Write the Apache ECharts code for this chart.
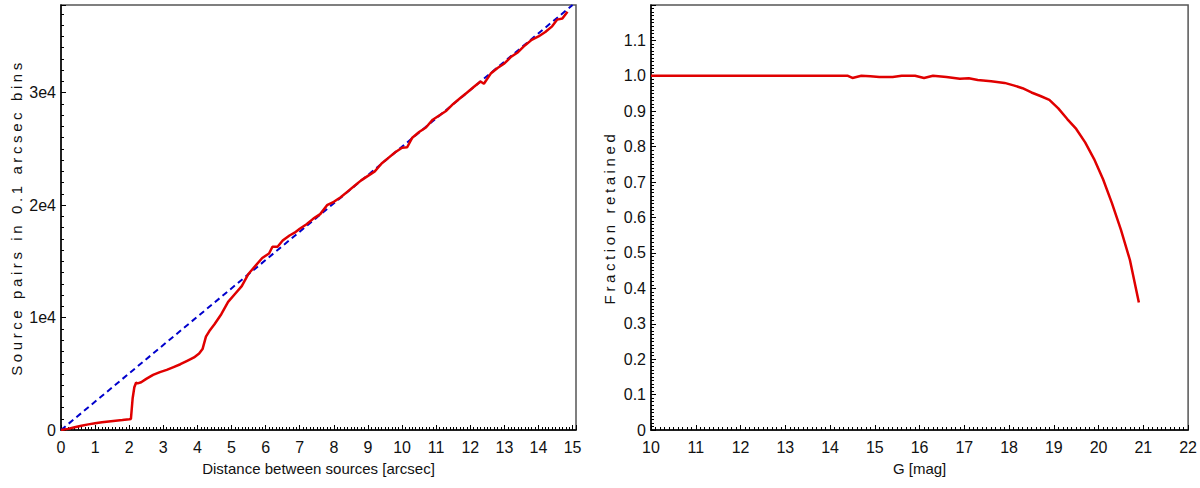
<!DOCTYPE html>
<html>
<head>
<meta charset="utf-8">
<script src="https://cdn.jsdelivr.net/npm/echarts@6/dist/echarts.min.js"></script>
<style>
  html, body { margin: 0; padding: 0; background: #fff; }
  #chart { width: 1200px; height: 488px; }
</style>
</head>
<body>
<div id="chart"></div>
<script>
// left panel: source pairs vs separation
const distRed = [0, 0.2, 0.4, 0.6, 0.8, 1.0, 1.2, 1.4, 1.6, 1.8, 2.0, 2.05, 2.1, 2.15, 2.2, 2.25, 2.35, 2.5, 2.7, 2.9,
  3.1, 3.3, 3.5, 3.7, 3.9, 4.05, 4.15, 4.25, 4.35, 4.5, 4.7, 4.9, 5.1, 5.3, 5.5, 5.7, 5.9, 6.1, 6.2, 6.35, 6.5, 6.7,
  6.85, 7.0, 7.2, 7.4, 7.6, 7.8, 8.0, 8.2, 8.4, 8.6, 8.8, 9.0, 9.2, 9.4, 9.6, 9.8, 10.0, 10.15, 10.3, 10.5, 10.7,
  10.9, 11.1, 11.3, 11.5, 11.7, 11.9, 12.1, 12.3, 12.4, 12.6, 12.8, 13.0, 13.2, 13.4, 13.6, 13.8, 14.0, 14.2, 14.4,
  14.55, 14.7, 14.85];
const pairsRed = [0, 100, 250, 380, 500, 600, 680, 750, 820, 880, 950, 980, 2800, 3800, 4200, 4150, 4250, 4550, 4900, 5150,
  5350, 5600, 5850, 6150, 6450, 6800, 7200, 8300, 8800, 9400, 10300, 11400, 12100, 12800, 13900, 14600, 15300, 15700, 16300, 16300, 16850, 17300,
  17550, 17900, 18300, 18800, 19200, 20000, 20300, 20700, 21200, 21700, 22200, 22600, 23000, 23700, 24200, 24700, 25100, 25150, 26000, 26500, 26900,
  27600, 28000, 28400, 29000, 29500, 30000, 30500, 31000, 30800, 31700, 32200, 32600, 33200, 33600, 34200, 34700, 35000, 35400, 35900,
  36500, 36600, 37200];
const distBlue = [0, 15];
const pairsBlue = [0, 37800];

// right panel: fraction retained vs G
const gMag = [10, 11, 12, 13, 14, 14.4, 14.5, 14.7, 14.9, 15.1, 15.4, 15.6, 15.9, 16.1, 16.3, 16.6, 16.9, 17.1, 17.3, 17.6,
  17.9, 18.1, 18.3, 18.5, 18.7, 18.9, 19.1, 19.3, 19.5, 19.7, 19.9, 20.1, 20.3, 20.5, 20.7, 20.9];
const fracRet = [1, 1, 1, 1, 1, 1, 0.994, 1, 0.999, 0.997, 0.997, 1, 1, 0.994, 1, 0.997, 0.992, 0.993, 0.988, 0.985,
  0.98, 0.973, 0.965, 0.953, 0.943, 0.932, 0.908, 0.878, 0.85, 0.812, 0.765, 0.708, 0.64, 0.565, 0.48, 0.36];

const yNameLeft = 'Source pairs in 0.1 arcsec bins';
const yNameRight = 'Fraction retained';

const zip = (a, b) => a.map((v, i) => [v, b[i]]);
const font = '"Liberation Sans", Arial, sans-serif';

function xAxisCfg(idx, min, max, name) {
  return {
    type: 'value', gridIndex: idx, min: min, max: max, interval: 1,
    name: name, nameLocation: 'middle', nameGap: 31,
    nameTextStyle: { fontFamily: font, fontSize: 15, color: '#111' },
    axisLine: { show: true, lineStyle: { color: '#000', width: 1.5 } },
    axisTick: { show: true, inside: true, length: 5, lineStyle: { color: '#000' } },
    minorTick: { show: true, splitNumber: 10, length: 3, lineStyle: { color: '#000' } },
    splitLine: { show: false },
    axisLabel: {
      fontFamily: font, fontSize: 16, color: '#111', margin: 9,
      formatter: v => Number.isInteger(v) ? String(v) : ''
    }
  };
}

function yAxisCfg(idx, max, interval, name, gap, fmt) {
  return {
    type: 'value', gridIndex: idx, min: 0, max: max, interval: interval,
    name: name, nameLocation: 'middle', nameGap: gap,
    nameTextStyle: { fontFamily: font, fontSize: 15, color: '#111' },
    axisLine: { show: true, lineStyle: { color: '#000', width: 1.5 } },
    axisTick: { show: true, inside: true, length: 5, lineStyle: { color: '#000' } },
    minorTick: { show: true, splitNumber: 10, length: 3, lineStyle: { color: '#000' } },
    splitLine: { show: false },
    axisLabel: { fontFamily: font, fontSize: 16, color: '#111', margin: 5, formatter: fmt }
  };
}

const chart = echarts.init(document.getElementById('chart'), null, { renderer: 'svg' });
chart.setOption({
  animation: false,
  backgroundColor: '#fff',
  grid: [
    { left: 61, top: 5, width: 515, height: 425, show: true, borderColor: '#555', borderWidth: 1.5 },
    { left: 651, top: 5, width: 540, height: 425, show: true, borderColor: '#555', borderWidth: 1.5 }
  ],
  xAxis: [
    xAxisCfg(0, 0, 15.1, 'Distance between sources [arcsec]'),
    xAxisCfg(1, 10, 22, 'G [mag]')
  ],
  yAxis: [
    yAxisCfg(0, 37800, 10000, yNameLeft, 37,
      v => v === 0 ? '0' : (v % 10000 === 0 ? (v / 10000) + 'e4' : '')),
    yAxisCfg(1, 1.2, 0.1, yNameRight, 34,
      v => v === 0 ? '0' : (v >= 1.15 ? '' : v.toFixed(1)))
  ],
  series: [
    {
      type: 'line', xAxisIndex: 0, yAxisIndex: 0, data: zip(distBlue, pairsBlue),
      showSymbol: false, lineStyle: { color: '#0000cc', width: 2, type: [6, 4] }, z: 2
    },
    {
      type: 'line', xAxisIndex: 0, yAxisIndex: 0, data: zip(distRed, pairsRed),
      showSymbol: false, lineStyle: { color: '#e00000', width: 2.5 }, z: 3
    },
    {
      type: 'line', xAxisIndex: 1, yAxisIndex: 1, data: zip(gMag, fracRet),
      showSymbol: false, lineStyle: { color: '#e00000', width: 2.5 }
    }
  ]
});

// the y titles in the original are widely letter-spaced
document.querySelectorAll('#chart text').forEach(t => {
  if (t.textContent === yNameLeft || t.textContent === yNameRight) {
    t.style.letterSpacing = '3.6px';
  }
});
</script>
</body>
</html>
